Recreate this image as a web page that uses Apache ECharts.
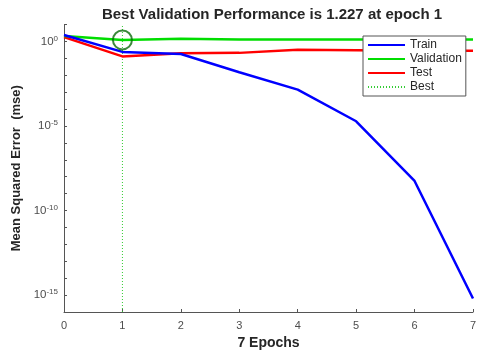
<!DOCTYPE html>
<html>
<head>
<meta charset="utf-8">
<script src="https://cdn.jsdelivr.net/npm/echarts@6/dist/echarts.min.js"></script>
<style>
  html, body { margin: 0; padding: 0; background: #fff; }
  #main { width: 480px; height: 355px; }
</style>
</head>
<body>
<div id="main"></div>
<script>
// data
var epochs = [0, 1, 2, 3, 4, 5, 6, 7];
var train = [2.4, 0.24, 0.18, 0.015, 1.4e-3, 1.9e-5, 5.6e-9, 6.3e-16];
var validation = [2.1, 1.227, 1.45, 1.3, 1.3, 1.3, 1.3, 1.3];
var test = [1.8, 0.13, 0.2, 0.21, 0.32, 0.3, 0.28, 0.28];
var bestEpoch = 1;
var bestValue = 1.227;
var yMin = 1e-16, yMax = 10;

function pairs(ys) {
  return epochs.map(function (x, i) { return [x, ys[i]]; });
}

var font = 'Liberation Sans, Arial, sans-serif';
var myChart = echarts.init(document.getElementById('main'));

var option = {
  animation: false,
  backgroundColor: '#fff',
  title: {
    text: 'Best Validation Performance is 1.227 at epoch 1',
    left: 267,
    textAlign: 'center',
    top: 2,
    textStyle: { fontFamily: font, fontSize: 15, fontWeight: 'bold', color: '#262626' }
  },
  legend: {
    orient: 'vertical',
    left: 363,
    top: 36,
    data: ['Train', 'Validation', 'Test', 'Best'],
    backgroundColor: '#fff',
    borderColor: '#555',
    borderWidth: 1,
    padding: [3, 4, 3, 4],
    itemGap: 2,
    itemWidth: 37,
    itemHeight: 8,
    itemStyle: { opacity: 0 },
    textStyle: { fontFamily: font, fontSize: 12, color: '#262626' }
  },
  grid: { left: 64, right: 7, top: 24.5, bottom: 41.5 },
  xAxis: {
    type: 'value',
    min: 0,
    max: 7,
    interval: 1,
    name: '7 Epochs',
    nameLocation: 'middle',
    nameGap: 24,
    nameTextStyle: { fontFamily: font, fontSize: 14, fontWeight: 'bold', color: '#262626' },
    axisLine: { lineStyle: { color: '#555' } },
    axisTick: { inside: true, length: 3, lineStyle: { color: '#555' } },
    axisLabel: { fontFamily: font, fontSize: 11, color: '#4d4d4d', margin: 8 },
    splitLine: { show: false }
  },
  yAxis: {
    type: 'log',
    logBase: 10,
    min: yMin,
    max: yMax,
    interval: 1,
    splitNumber: 17,
    name: 'Mean Squared Error  (mse)',
    nameLocation: 'middle',
    nameGap: 36,
    nameTextStyle: { fontFamily: font, fontSize: 13, fontWeight: 'bold', color: '#262626' },
    axisLine: { show: true, lineStyle: { color: '#555' } },
    axisTick: { show: true, inside: true, length: 3, lineStyle: { color: '#555' } },
    axisLabel: {
      fontFamily: font,
      color: '#4d4d4d',
      margin: 6,
      formatter: function (v) {
        var e = Math.round(Math.log10(v));
        if (e % 5 !== 0) return '';
        return '{b|10}{s|' + e + '}';
      },
      rich: {
        b: { fontFamily: font, fontSize: 11.5, color: '#4d4d4d' },
        s: { fontFamily: font, fontSize: 8, color: '#4d4d4d', verticalAlign: 'top', padding: [0, 0, 6, 0] }
      }
    },
    splitLine: { show: false }
  },
  series: [
    {
      name: 'Best',
      type: 'line',
      data: [[bestEpoch, yMin], [bestEpoch, yMax]],
      symbol: 'none',
      lineStyle: { color: '#33cc33', width: 1, type: [1, 2] },
      itemStyle: { color: '#33cc33' },
      z: 1
    },
    {
      name: 'Train',
      type: 'line',
      data: pairs(train),
      symbol: 'none',
      lineStyle: { color: '#0000ff', width: 2.5 },
      itemStyle: { color: '#0000ff' },
      z: 4
    },
    {
      name: 'Validation',
      type: 'line',
      data: pairs(validation),
      symbol: 'none',
      lineStyle: { color: '#00dd00', width: 2.5 },
      itemStyle: { color: '#00dd00' },
      z: 3
    },
    {
      name: 'Test',
      type: 'line',
      data: pairs(test),
      symbol: 'none',
      lineStyle: { color: '#ff0000', width: 2.5 },
      itemStyle: { color: '#ff0000' },
      z: 2
    },
    {
      name: 'bestCircle',
      type: 'scatter',
      data: [[bestEpoch, bestValue]],
      symbol: 'circle',
      symbolSize: 19,
      itemStyle: { color: 'rgba(0,0,0,0)', borderColor: '#0a6b0a', borderWidth: 2 },
      z: 5
    }
  ]
};

myChart.setOption(option);
</script>
</body>
</html>
